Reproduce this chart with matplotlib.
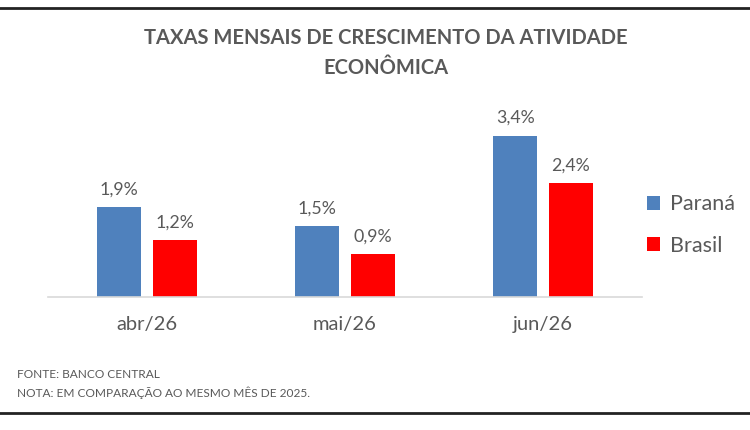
import matplotlib
matplotlib.use("Agg")
import matplotlib.pyplot as plt
import numpy as np
from matplotlib.patches import Patch
from matplotlib.lines import Line2D

categories = ["abr/26", "mai/26", "jun/26"]
parana = [1.9, 1.5, 3.4]
brasil = [1.2, 0.9, 2.4]
series_names = ["Paraná", "Brasil"]
notes = ["FONTE: BANCO CENTRAL", "NOTA: EM COMPARAÇÃO AO MESMO MÊS DE 2025."]

BLUE = "#4F81BD"
RED = "#FF0000"
GRAY = "#595959"
FONT = ["Lato", "DejaVu Sans"]

plt.rcParams['font.family'] = FONT

fig = plt.figure(figsize=(7.5, 4.3), dpi=100)
fig.patch.set_facecolor("white")
ax = fig.add_axes([48/750, 1-297/430, (642-48)/750, (297-100)/430])

x = np.arange(len(categories))
w = 0.222
off = 0.141
b1 = ax.bar(x - off, parana, w, color=BLUE)
b2 = ax.bar(x + off, brasil, w, color=RED)

for bars, vals in ((b1, parana), (b2, brasil)):
    for r, v in zip(bars, vals):
        ax.annotate(f"{v:.1f}%".replace(".", ","),
                    (r.get_x() + r.get_width()/2, r.get_height()),
                    xytext=(0, 7), textcoords="offset points",
                    ha="center", va="bottom", fontsize=12.8, color=GRAY)

ax.set_xlim(-0.5, 2.5)
ax.set_ylim(0, 197/47.4)
ax.set_xticks(x)
ax.set_xticklabels(categories, fontsize=14.5, color=GRAY)
ax.tick_params(axis="x", length=0, pad=14)
ax.set_yticks([])
for s in ("left", "right", "top"):
    ax.spines[s].set_visible(False)
ax.spines["bottom"].set_color("#D9D9D9")
ax.spines["bottom"].set_linewidth(1.2)

fig.text(386/750, 1-38/430, "TAXAS MENSAIS DE CRESCIMENTO DA ATIVIDADE",
         ha="center", va="center", fontsize=14.5, fontweight="bold", color=GRAY)
fig.text(386/750, 1-68/430, "ECONÔMICA",
         ha="center", va="center", fontsize=14.5, fontweight="bold", color=GRAY)

handles = [Patch(facecolor=BLUE), Patch(facecolor=RED)]
leg = fig.legend(handles, series_names, loc="upper left",
                 bbox_to_anchor=(628/750, 1-175/430), frameon=False,
                 fontsize=15.5, handlelength=0.6, handleheight=0.6,
                 handletextpad=0.45, labelspacing=1.0, labelcolor=GRAY)

fig.text(17/750, 1-375/430, notes[0], ha="left", va="center", fontsize=8.6, color=GRAY)
fig.text(17/750, 1-393/430, notes[1], ha="left", va="center", fontsize=8.6, color=GRAY)

fig.add_artist(Line2D([0, 1], [1-8/430, 1-8/430], color="#222222", lw=2))
fig.add_artist(Line2D([0, 1], [1-413/430, 1-413/430], color="#222222", lw=2))

fig.savefig("out.png", dpi=100, facecolor="white")
